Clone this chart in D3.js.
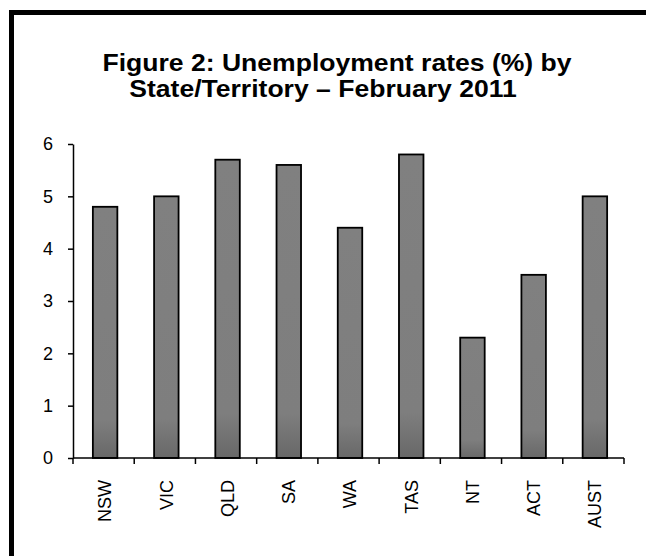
<!DOCTYPE html>
<html>
<head>
<meta charset="utf-8">
<script src="https://cdn.jsdelivr.net/npm/d3@7"></script>
<style>
  body { margin: 0; background: #fff; }
  svg { display: block; font-family: Arial, "Liberation Sans", sans-serif; }
</style>
</head>
<body>
<div id="chart"></div>
<script>
// 州/領地
const states = ['NSW', 'VIC', 'QLD', 'SA', 'WA', 'TAS', 'NT', 'ACT', 'AUST']
// 失業率 (%)
const rates = [4.8, 5.0, 5.7, 5.6, 4.4, 5.8, 2.3, 3.5, 5.0]
const yTicks = [0, 1, 2, 3, 4, 5, 6]
const titleLines = ['Figure 2: Unemployment rates (%) by', 'State/Territory \u2013 February 2011']

const width = 646
const height = 556
const margin = { left: 73, right: 22, top: 144, bottom: 98 }

const svg = d3.select('#chart').append('svg')
    .attr('width', width)
    .attr('height', height)

// 漸變填充
const grad = svg.append('defs').append('linearGradient')
    .attr('id', 'barFill')
    .attr('x1', 0).attr('y1', 0).attr('x2', 0).attr('y2', 1)
grad.append('stop').attr('offset', '0%').attr('stop-color', '#808080')
grad.append('stop').attr('offset', '85%').attr('stop-color', '#7e7e7e')
grad.append('stop').attr('offset', '100%').attr('stop-color', '#686868')

// 外框
svg.append('rect')
    .attr('x', 11.5).attr('y', 12.5)
    .attr('width', 700).attr('height', 700)
    .attr('fill', 'none')
    .attr('stroke', '#000')
    .attr('stroke-width', 5)

// 標題 (稍微橫向拉伸), 第二行中心略偏左
const titleX = [337, 323]
svg.append('g')
    .selectAll('text')
    .data(titleLines)
    .join('text')
    .attr('transform', (d, i) => `translate(${titleX[i]},${71 + i * 26}) scale(1.13,1)`)
    .attr('text-anchor', 'middle')
    .attr('font-size', 23.5)
    .attr('font-weight', 'bold')
    .text(d => d)

const x = d3.scaleBand()
    .domain(states)
    .range([margin.left, width - margin.right])
    .paddingInner(0.6)
    .paddingOuter(0.3)

const y = d3.scaleLinear()
    .domain([0, 6])
    .range([height - margin.bottom, margin.top])

// 柱子
svg.append('g')
    .selectAll('rect')
    .data(rates)
    .join('rect')
    .attr('x', (d, i) => x(states[i]) + 1.5)
    .attr('y', d => y(d))
    .attr('width', x.bandwidth())
    .attr('height', d => y(0) - y(d))
    .attr('fill', 'url(#barFill)')
    .attr('stroke', '#000')
    .attr('stroke-width', 1.8)

// y 軸
const yAxis = svg.append('g')
    .attr('transform', `translate(${margin.left},0)`)
    .call(d3.axisLeft(y).tickValues(yTicks).tickFormat(d3.format('d')).tickSize(5).tickPadding(15).tickSizeOuter(0))
yAxis.selectAll('text').attr('font-size', 18).attr('fill', '#000').style('font-family', 'inherit')
yAxis.selectAll('line, path').attr('stroke', '#000').attr('stroke-width', 1.5)

// x 軸: 刻度在類別之間
const xTickPos = d3.range(states.length + 1).map(i => margin.left + i * (width - margin.right - margin.left) / states.length)
const xAxis = svg.append('g')
    .attr('transform', `translate(0,${y(0)})`)
xAxis.append('line')
    .attr('x1', margin.left).attr('x2', width - margin.right)
    .attr('stroke', '#000').attr('stroke-width', 1.5)
xAxis.selectAll('.tick')
    .data(xTickPos)
    .join('line')
    .attr('class', 'tick')
    .attr('x1', d => d).attr('x2', d => d)
    .attr('y1', 0).attr('y2', 6)
    .attr('stroke', '#000').attr('stroke-width', 1.5)
xAxis.selectAll('text')
    .data(states)
    .join('text')
    .attr('transform', d => `translate(${x(d) + x.bandwidth() / 2 + 1.5},22) rotate(-90)`)
    .attr('dy', '0.35em')
    .attr('text-anchor', 'end')
    .attr('font-size', 18)
    .text(d => d)
</script>
</body>
</html>
